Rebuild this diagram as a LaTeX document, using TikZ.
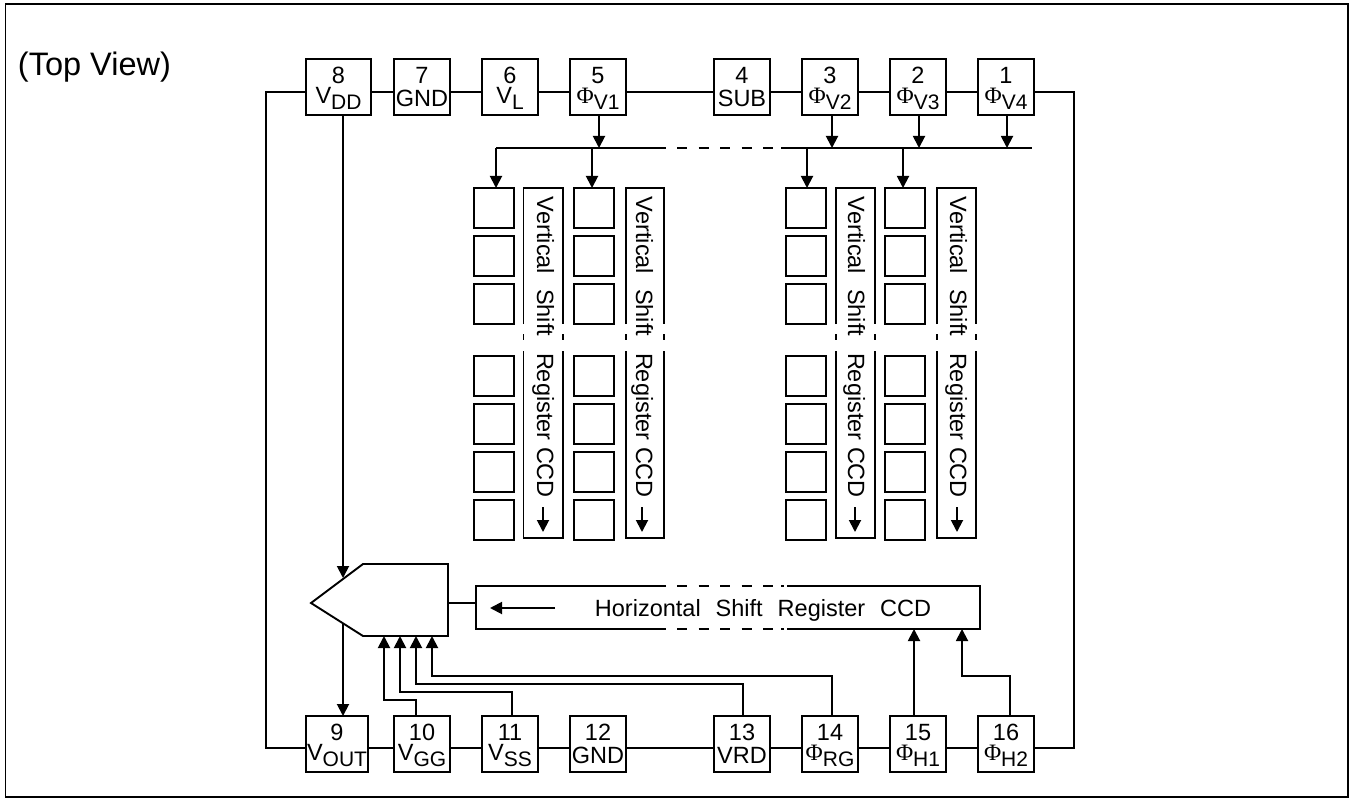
\documentclass[tikz,border=0pt]{standalone}
\usepackage{fontspec}
\usepackage{tikz}
\usetikzlibrary{arrows.meta}
\setmainfont{Liberation Sans}
\newfontfamily\phifont{Liberation Serif}
\newcommand{\pinsub}[1]{\raisebox{-6pt}[0pt][3pt]{\fontsize{21}{21}\selectfont #1}}
\newcommand{\wgap}{\hspace{15pt}}
\newcommand{\shiftbar}[2]{
    \draw (#1,324) -- (#1,188) -- (#2,188) -- (#2,324);
    \draw (#1,334) -- (#1,340);
    \draw (#2,334) -- (#2,340);
    \draw (#1,351) -- (#1,538) -- (#2,538) -- (#2,351);
}
\begin{document}
\begin{tikzpicture}[x=1pt,y=-1pt,line width=1.9pt,font=\fontsize{23.5}{20}\selectfont,
    pinbox/.style={rectangle,draw,minimum width=56pt,minimum height=56pt,inner sep=0pt,outer sep=0pt,align=center},
    cellbox/.style={rectangle,draw,minimum width=39.5pt,minimum height=40pt,inner sep=0pt,outer sep=0pt},
    shifttext/.style={rotate=-90,anchor=base west,inner sep=0pt,outer sep=0pt},
    sig/.style={-{Triangle[width=12pt,length=12pt]}},
    dashrun/.style={dash pattern=on 10pt off 11.5pt}]
    \useasboundingbox (0,0) rectangle (1356,799);
    \draw (5.5,4) rectangle (1348,797);
    \node [anchor=base west,inner sep=0pt,font=\fontsize{32.5}{32}\selectfont] (topView) at (17,76) {(Top View)};
    % top row of pins
    \node [pinbox,minimum width=65pt] (p8) at (338.5,87) {8\\V\pinsub{DD}};
    \node [pinbox, right of=p8,node distance=83.5pt] (p7) {7\\[3pt]GND};
    \node [pinbox, right of=p7,node distance=88pt] (p6) {6\\V\pinsub{L}};
    \node [pinbox, right of=p6,node distance=88pt] (p5) {5\\{\phifont Φ}\pinsub{V1}};
    \node [pinbox, right of=p5,node distance=144pt] (p4) {4\\[3pt]SUB};
    \node [pinbox, right of=p4,node distance=88pt] (p3) {3\\{\phifont Φ}\pinsub{V2}};
    \node [pinbox, right of=p3,node distance=88pt] (p2) {2\\{\phifont Φ}\pinsub{V3}};
    \node [pinbox, right of=p2,node distance=88pt] (p1) {1\\{\phifont Φ}\pinsub{V4}};
    % bottom row of pins
    \node [pinbox,minimum width=62pt] (p9) at (337,744) {9\\V\pinsub{OUT}};
    \node [pinbox, right of=p9,node distance=85pt] (p10) {10\\V\pinsub{GG}};
    \node [pinbox, right of=p10,node distance=88pt] (p11) {11\\V\pinsub{SS}};
    \node [pinbox, right of=p11,node distance=88pt] (p12) {12\\[3pt]GND};
    \node [pinbox, right of=p12,node distance=144pt] (p13) {13\\[3pt]VRD};
    \node [pinbox, right of=p13,node distance=88pt] (p14) {14\\{\phifont Φ}\pinsub{RG}};
    \node [pinbox, right of=p14,node distance=88pt] (p15) {15\\{\phifont Φ}\pinsub{H1}};
    \node [pinbox, right of=p15,node distance=88pt] (p16) {16\\{\phifont Φ}\pinsub{H2}};
    % photo cells
    \node [cellbox] (a1) at (494,208) {};
    \node [cellbox, below of=a1,node distance=48pt] (a2) {};
    \node [cellbox, below of=a2,node distance=48pt] (a3) {};
    \node [cellbox, below of=a3,node distance=72pt] (a4) {};
    \node [cellbox, below of=a4,node distance=48pt] (a5) {};
    \node [cellbox, below of=a5,node distance=48pt] (a6) {};
    \node [cellbox, below of=a6,node distance=48pt] (a7) {};
    \node [cellbox] (b1) at (594,208) {};
    \node [cellbox, below of=b1,node distance=48pt] (b2) {};
    \node [cellbox, below of=b2,node distance=48pt] (b3) {};
    \node [cellbox, below of=b3,node distance=72pt] (b4) {};
    \node [cellbox, below of=b4,node distance=48pt] (b5) {};
    \node [cellbox, below of=b5,node distance=48pt] (b6) {};
    \node [cellbox, below of=b6,node distance=48pt] (b7) {};
    \node [cellbox] (c1) at (806,208) {};
    \node [cellbox, below of=c1,node distance=48pt] (c2) {};
    \node [cellbox, below of=c2,node distance=48pt] (c3) {};
    \node [cellbox, below of=c3,node distance=72pt] (c4) {};
    \node [cellbox, below of=c4,node distance=48pt] (c5) {};
    \node [cellbox, below of=c5,node distance=48pt] (c6) {};
    \node [cellbox, below of=c6,node distance=48pt] (c7) {};
    \node [cellbox] (d1) at (905,208) {};
    \node [cellbox, below of=d1,node distance=48pt] (d2) {};
    \node [cellbox, below of=d2,node distance=48pt] (d3) {};
    \node [cellbox, below of=d3,node distance=72pt] (d4) {};
    \node [cellbox, below of=d4,node distance=48pt] (d5) {};
    \node [cellbox, below of=d5,node distance=48pt] (d6) {};
    \node [cellbox, below of=d6,node distance=48pt] (d7) {};
    % vertical registers
    \shiftbar{523.5}{563}
    \shiftbar{626}{664}
    \shiftbar{836}{875}
    \shiftbar{937}{976}
    \node [shifttext] (vsA) at (537,197) {Vertical\wgap Shift};
    \node [shifttext] (vrA) at (537,353) {Register CCD};
    \node [shifttext] (vsB) at (636,197) {Vertical\wgap Shift};
    \node [shifttext] (vrB) at (636,353) {Register CCD};
    \node [shifttext] (vsC) at (848,197) {Vertical\wgap Shift};
    \node [shifttext] (vrC) at (848,353) {Register CCD};
    \node [shifttext] (vsD) at (950,197) {Vertical\wgap Shift};
    \node [shifttext] (vrD) at (950,353) {Register CCD};
    \coordinate (flowA) at (543,507);
    \coordinate (flowB) at (642,507);
    \coordinate (flowC) at (855,507);
    \coordinate (flowD) at (957,507);
    \draw [sig] (flowA) -- ++(0,25);
    \draw [sig] (flowB) -- ++(0,25);
    \draw [sig] (flowC) -- ++(0,25);
    \draw [sig] (flowD) -- ++(0,25);
    % horizontal register
    \draw (666,586) -- (476,586) -- (476,629) -- (666,629);
    \draw (781,586) -- (784,586) (787,586) -- (980,586) -- (980,629) -- (787,629) (784,629) -- (781,629);
    \draw [dashrun] (677,586) -- (775,586);
    \draw [dashrun] (677,629) -- (775,629);
    \node [anchor=base west,inner sep=0pt] (hreg) at (594,616) {Horizontal\wgap Shift\wgap Register\wgap CCD};
    \coordinate (hregIn) at (476,603);
    \coordinate (hflowS) at (555,608);
    \coordinate (hflowE) at (490,608);
    \draw [sig] (hflowS) -- (hflowE);
    \coordinate (regH1) at (914,629);
    \coordinate (regH2) at (962,629);
    % output amplifier
    \coordinate (ampTip) at (311,603);
    \coordinate (ampOut) at (448,603);
    \coordinate (ampDD) at (343,578);
    \coordinate (ampVout) at (343,623);
    \coordinate (ampGG) at (384,636);
    \coordinate (ampSS) at (400,636);
    \coordinate (ampRD) at (416,636);
    \coordinate (ampRG) at (432,636);
    \draw (ampTip) -- (363,564) -- (448,564) -- (448,636) -- (363,636) -- cycle;
    \draw (ampOut) -- (hregIn);
    % pin wiring
    \draw ([yshift=-5pt]p8.east) -- ([yshift=-5pt]p7.west);
    \draw ([yshift=-5pt]p7.east) -- ([yshift=-5pt]p6.west);
    \draw ([yshift=-5pt]p6.east) -- ([yshift=-5pt]p5.west);
    \draw ([yshift=-5pt]p5.east) -- ([yshift=-5pt]p4.west);
    \draw ([yshift=-5pt]p4.east) -- ([yshift=-5pt]p3.west);
    \draw ([yshift=-5pt]p3.east) -- ([yshift=-5pt]p2.west);
    \draw ([yshift=-5pt]p2.east) -- ([yshift=-5pt]p1.west);
    \draw ([yshift=-4pt]p9.east) -- ([yshift=-4pt]p10.west);
    \draw ([yshift=-4pt]p10.east) -- ([yshift=-4pt]p11.west);
    \draw ([yshift=-4pt]p11.east) -- ([yshift=-4pt]p12.west);
    \draw ([yshift=-4pt]p12.east) -- ([yshift=-4pt]p13.west);
    \draw ([yshift=-4pt]p13.east) -- ([yshift=-4pt]p14.west);
    \draw ([yshift=-4pt]p14.east) -- ([yshift=-4pt]p15.west);
    \draw ([yshift=-4pt]p15.east) -- ([yshift=-4pt]p16.west);
    \coordinate (railL) at (266,400);
    \coordinate (railR) at (1074,400);
    \draw ([yshift=-5pt]p8.west) -| (railL) |- ([yshift=-4pt]p9.west);
    \draw ([yshift=-5pt]p1.east) -| (railR) |- ([yshift=-4pt]p16.east);
    % clock bus
    \coordinate (busA) at (496,148);
    \coordinate (busB) at (592,148);
    \coordinate (busC) at (807,148);
    \coordinate (busD) at (903,148);
    \coordinate (busE) at (1032,148);
    \draw (busA) -- (666,148);
    \draw (781,148) -- (busE);
    \draw [dashrun] (677,148) -- (775,148);
    \draw [sig] ([xshift=1pt]p5.south) -- ([xshift=1pt]p5.south |- busA);
    \draw [sig] ([xshift=2pt]p3.south) -- ([xshift=2pt]p3.south |- busA);
    \draw [sig] ([xshift=1pt]p2.south) -- ([xshift=1pt]p2.south |- busA);
    \draw [sig] ([xshift=1pt]p1.south) -- ([xshift=1pt]p1.south |- busA);
    \draw [sig] (busA) -- (busA |- a1.north);
    \draw [sig] (busB) -- (busB |- b1.north);
    \draw [sig] (busC) -- (busC |- c1.north);
    \draw [sig] (busD) -- (busD |- d1.north);
    % amplifier wiring
    \draw [sig] ([xshift=4.5pt]p8.south) -- (ampDD);
    \draw [sig] (ampVout) -- ([xshift=6pt]p9.north);
    \draw [sig] ([xshift=-6pt]p10.north) -- ++(0,-16) -| (ampGG);
    \draw [sig] ([xshift=2pt]p11.north) -- ++(0,-24) -| (ampSS);
    \draw [sig] ([xshift=1pt]p13.north) -- ++(0,-32) -| (ampRD);
    \draw [sig] ([xshift=2pt]p14.north) -- ++(0,-40) -| (ampRG);
    \draw [sig] ([xshift=-4pt]p15.north) -- (regH1);
    \draw [sig] ([xshift=4pt]p16.north) -- ++(0,-40) -| (regH2);
\end{tikzpicture}
\end{document}
